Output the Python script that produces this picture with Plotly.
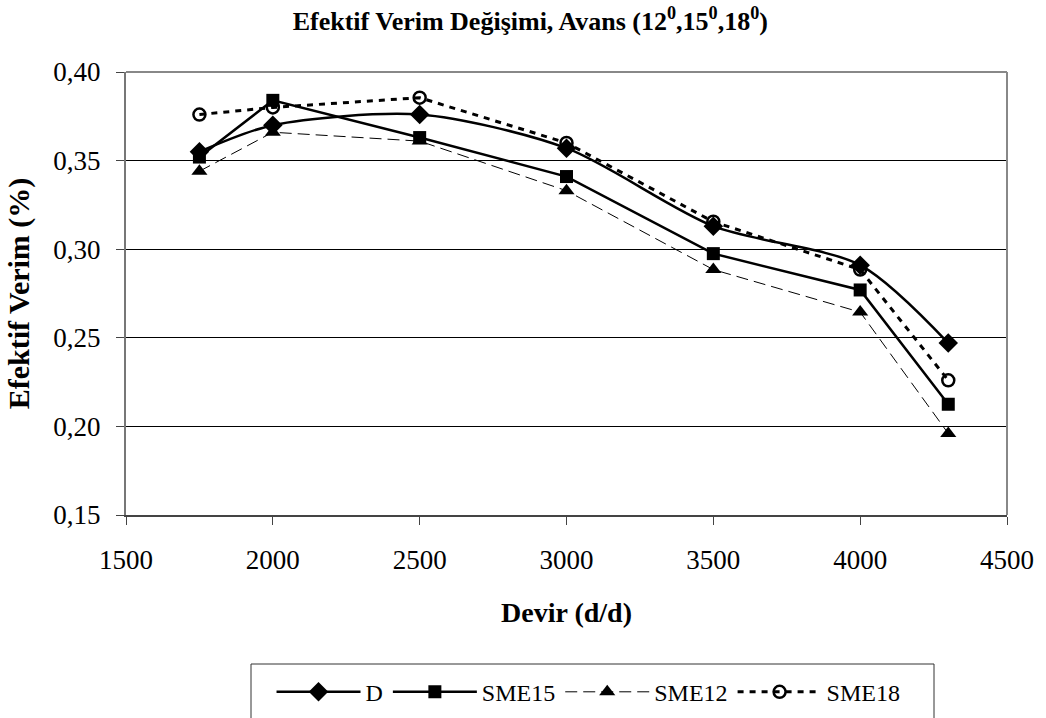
import plotly.graph_objects as go

devir = [1750, 2000, 2500, 3000, 3500, 4000, 4300]
D = [0.355, 0.370, 0.376, 0.357, 0.313, 0.291, 0.247]
SME15 = [0.352, 0.384, 0.363, 0.341, 0.2975, 0.277, 0.2125]
SME12 = [0.344, 0.366, 0.361, 0.333, 0.2885, 0.2645, 0.196]
SME18 = [0.376, 0.380, 0.3855, 0.360, 0.3155, 0.2885, 0.226]

x_ticks = [1500, 2000, 2500, 3000, 3500, 4000, 4500]
y_ticks = [0.15, 0.20, 0.25, 0.30, 0.35, 0.40]

FONT = "Liberation Serif"

fig = go.Figure()
fig.add_trace(go.Scatter(
    x=devir, y=D, name="D", mode="lines+markers",
    line=dict(color="black", width=2.5, shape="spline", smoothing=0.8),
    marker=dict(symbol="diamond", size=15, color="black")))
fig.add_trace(go.Scatter(
    x=devir, y=SME15, name="SME15", mode="lines+markers",
    line=dict(color="black", width=2.5),
    marker=dict(symbol="square", size=13, color="black")))
fig.add_trace(go.Scatter(
    x=devir, y=SME12, name="SME12", mode="lines+markers",
    line=dict(color="black", width=1, dash="12px,6px"),
    marker=dict(symbol="triangle-up", size=14, color="black")))
fig.add_trace(go.Scatter(
    x=devir, y=SME18, name="SME18", mode="lines+markers",
    line=dict(color="black", width=3, dash="6px,6px"),
    marker=dict(symbol="circle-open", size=12, color="black", line=dict(width=2.5))))

fig.update_layout(
    width=1046, height=718,
    margin=dict(l=126, r=39, t=72, b=203, autoexpand=False),
    paper_bgcolor="white", plot_bgcolor="white",
    separators=", ",
    font=dict(family=FONT, size=24, color="black"),
    title=dict(
        text="<b>Efektif Verim Değişimi, Avans (12<sup>0</sup>,15<sup>0</sup>,18<sup>0</sup>)</b>",
        x=0.507, xanchor="center", y=0.984, yanchor="top",
        font=dict(family=FONT, size=26, color="black")),
    showlegend=True,
    legend=dict(
        orientation="h", x=0.525, xanchor="center", y=-0.40, yanchor="middle",
        font=dict(family=FONT, size=24, color="black"),
        borderwidth=0, bgcolor="rgba(0,0,0,0)", itemwidth=84,
        traceorder="normal"),
    xaxis=dict(
        range=[1500, 4500], tickvals=x_ticks, ticks="outside", ticklen=8,
        tickcolor="#444", linecolor="#444", linewidth=1.5, showgrid=False,
        zeroline=False, mirror=False, automargin=False, ticklabelstandoff=12,
        title=dict(text="<b>Devir (d/d)</b>", font=dict(family=FONT, size=28), standoff=28),
        tickfont=dict(family=FONT, size=27)),
    yaxis=dict(
        range=[0.15, 0.40], tickvals=y_ticks, tickformat=".2f", ticks="outside",
        ticklen=8, tickcolor="#444", linecolor="#777", linewidth=2,
        showgrid=True, gridcolor="black", gridwidth=1, zeroline=False,
        automargin=False, ticklabelstandoff=10,
        title=dict(text="<b>Efektif Verim (%)</b>", font=dict(family=FONT, size=30), standoff=15),
        tickfont=dict(family=FONT, size=27)),
    shapes=[
        dict(type="line", xref="paper", yref="paper", x0=0, x1=1, y0=1, y1=1,
             line=dict(color="#888", width=2)),
        dict(type="line", xref="paper", yref="paper", x0=1, x1=1, y0=0, y1=1,
             line=dict(color="#888", width=2)),
        dict(type="rect", xref="paper", yref="paper",
             x0=(251 - 126) / 881, x1=(934 - 126) / 881,
             y0=-(730 - 515) / 443, y1=-(664 - 515) / 443,
             line=dict(color="#333", width=1), fillcolor="rgba(0,0,0,0)"),
    ],
)

fig.write_html("out.html")
